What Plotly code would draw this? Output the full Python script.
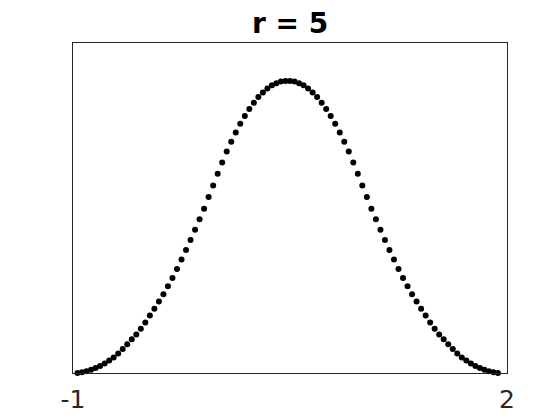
import plotly.graph_objects as go

# sample positions (step 1/32 on [-1, 2])
x_vals = [
    -0.96875, -0.9375, -0.90625, -0.875, -0.84375, -0.8125, -0.78125, -0.75,
    -0.71875, -0.6875, -0.65625, -0.625, -0.59375, -0.5625, -0.53125, -0.5,
    -0.46875, -0.4375, -0.40625, -0.375, -0.34375, -0.3125, -0.28125, -0.25,
    -0.21875, -0.1875, -0.15625, -0.125, -0.09375, -0.0625, -0.03125, 0.0,
    0.03125, 0.0625, 0.09375, 0.125, 0.15625, 0.1875, 0.21875, 0.25,
    0.28125, 0.3125, 0.34375, 0.375, 0.40625, 0.4375, 0.46875, 0.5,
    0.53125, 0.5625, 0.59375, 0.625, 0.65625, 0.6875, 0.71875, 0.75,
    0.78125, 0.8125, 0.84375, 0.875, 0.90625, 0.9375, 0.96875, 1.0,
    1.03125, 1.0625, 1.09375, 1.125, 1.15625, 1.1875, 1.21875, 1.25,
    1.28125, 1.3125, 1.34375, 1.375, 1.40625, 1.4375, 1.46875, 1.5,
    1.53125, 1.5625, 1.59375, 1.625, 1.65625, 1.6875, 1.71875, 1.75,
    1.78125, 1.8125, 1.84375, 1.875, 1.90625, 1.9375,
]

# values (axis scaled 0..1)
y_vals = [
    0.000, 0.002, 0.005, 0.010, 0.015, 0.021, 0.029, 0.038,
    0.047, 0.059, 0.073, 0.087, 0.102, 0.117, 0.134, 0.153,
    0.174, 0.195, 0.217, 0.239, 0.263, 0.288, 0.315, 0.344,
    0.373, 0.403, 0.434, 0.466, 0.498, 0.533, 0.568, 0.604,
    0.638, 0.671, 0.701, 0.729, 0.755, 0.779, 0.800, 0.819,
    0.836, 0.850, 0.862, 0.872, 0.878, 0.883, 0.885, 0.885,
    0.883, 0.878, 0.872, 0.862, 0.850, 0.836, 0.819, 0.800,
    0.779, 0.755, 0.729, 0.701, 0.671, 0.638, 0.604, 0.568,
    0.533, 0.498, 0.466, 0.434, 0.403, 0.373, 0.344, 0.315,
    0.288, 0.263, 0.239, 0.217, 0.195, 0.174, 0.153, 0.134,
    0.117, 0.102, 0.087, 0.073, 0.059, 0.047, 0.038, 0.029,
    0.021, 0.015, 0.010, 0.005, 0.002, 0.000,
]

tick_vals = [-1, 2]
tick_text = ['-1', '2']

fig = go.Figure()
fig.add_trace(go.Scatter(x=x_vals, y=y_vals, mode='markers',
                         marker=dict(color='black', size=6),
                         cliponaxis=False, showlegend=False))

# page body has an 8px margin, so shift everything up/left by 8
fig.update_layout(
    width=560, height=420,
    margin=dict(l=65, r=61, t=35, b=55),
    paper_bgcolor='white', plot_bgcolor='white',
    title=dict(text='<b>r = 5</b>', x=0.5, xref='paper', xanchor='center',
               y=0.965, yref='container', yanchor='middle',
               font=dict(family='DejaVu Sans', size=28, color='black')),
    font=dict(family='DejaVu Sans', color='#262626'),
)
fig.update_xaxes(range=[-1, 2], tickvals=tick_vals, ticktext=tick_text,
                 ticks='', showgrid=False, zeroline=False,
                 showline=True, mirror=True, linecolor='#262626', linewidth=1,
                 tickfont=dict(size=25, color='#262626'), ticklabelstandoff=4)
fig.update_yaxes(range=[0, 1], showticklabels=False, ticks='',
                 showgrid=False, zeroline=False,
                 showline=True, mirror=True, linecolor='#262626', linewidth=1)

fig.write_html("out.html")
